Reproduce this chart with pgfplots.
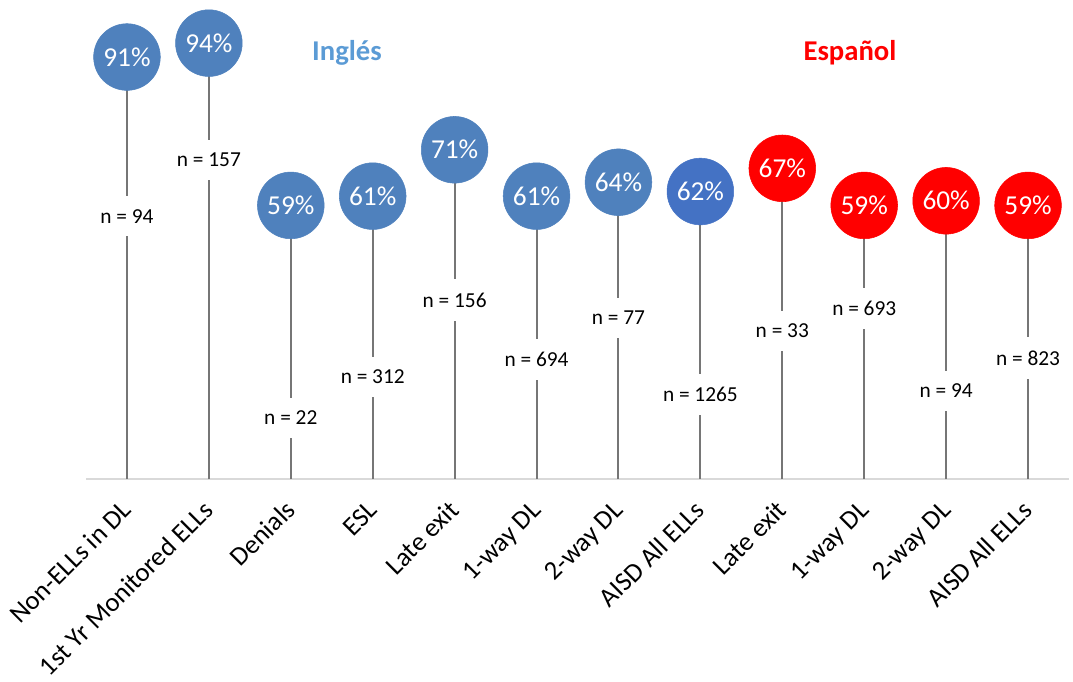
\documentclass[border=0pt]{standalone}
\usepackage{pgfplots}
\pgfplotsset{compat=1.18}
\usepackage{pgfplotstable}
\usepackage{fontspec}
\setmainfont{Carlito}

\definecolor{ingblue}{RGB}{79,129,189}
\definecolor{aisdblue}{RGB}{68,114,196}
\definecolor{espred}{RGB}{255,0,0}
\definecolor{titleblue}{RGB}{91,155,213}
\definecolor{stemgray}{RGB}{118,118,118}
\definecolor{basegray}{RGB}{217,217,217}

% x = category, pct = circle value, npos = height of the n label, n = sample size
\pgfplotstableread{
x pct npos n
0 91 56.7 94
1 94 68.8 157
2 59 13.2 22
3 61 22.0 312
4 71 38.6 156
5 61 25.7 694
6 64 34.7 77
7 62 18.3 1265
8 67 31.9 33
9 59 36.7 693
10 60 19.0 94
11 59 26.1 823
}\datos

\pgfplotsset{
	circlelabels/.style={point meta=explicit symbolic,
		nodes near coords={\pgfplotspointmeta\%},
		nodes near coords align=center,
		every node near coord/.append style={anchor=center, text=white,
			font=\fontsize{20.5}{22}\selectfont}},
}

\begin{document}
\begin{tikzpicture}
\begin{axis}[
	scale only axis,
	width=737.25pt,
	height=347.8pt,
	xmin=-0.5, xmax=11.5,
	ymin=0, ymax=100,
	clip=false,
	axis y line=none,
	axis x line*=bottom,
	x axis line style={basegray, line width=1.5pt, -},
	ytick=\empty,
	xtick={0,...,11},
	major tick length=0pt,
	xticklabels={Non-ELLs in DL, 1st Yr Monitored ELLs, Denials, ESL, Late exit,
		1-way DL, 2-way DL, AISD All ELLs, Late exit, 1-way DL, 2-way DL, AISD All ELLs},
	xticklabel style={yshift=-20pt, rotate=45, anchor=east, inner sep=0pt,
		text height=13pt, text depth=0pt,
		font=\fontsize{20}{22}\selectfont},
]
	% invisible frame: the picture's full extent
	\path (axis cs:-1.55,-43.56) rectangle (axis cs:11.549,103.3);

	% stems
	\addplot[ycomb, stemgray, line width=1.5pt, mark=none] table[x=x, y=pct] {\datos};

	% n labels
	\addplot[only marks, mark=none, point meta=explicit symbolic,
		nodes near coords={n = \pgfplotspointmeta},
		nodes near coords align=center,
		every node near coord/.append style={anchor=center, fill=white, inner xsep=3pt,
			inner ysep=10pt, font=\fontsize{16}{18}\selectfont}]
		table[x=x, y=npos, meta=n] {\datos};

	% circles, Inglés
	\addplot[only marks, color=ingblue, mark=*, mark size=25pt,
		restrict x to domain=0:6, circlelabels]
		table[x=x, y=pct, meta=pct] {\datos};

	% circle, AISD All ELLs (Inglés)
	\addplot[only marks, color=aisdblue, mark=*, mark size=25pt,
		restrict x to domain=7:7, circlelabels]
		table[x=x, y=pct, meta=pct] {\datos};

	% circles, Español
	\addplot[only marks, color=espred, mark=*, mark size=25pt,
		restrict x to domain=8:11, circlelabels]
		table[x=x, y=pct, meta=pct] {\datos};

	% group titles
	\node[titleblue, font=\bfseries\fontsize{21.5}{24}\selectfont] at (axis cs:2.686,91.9) {Inglés};
	\node[espred, font=\bfseries\fontsize{21.5}{24}\selectfont] at (axis cs:8.826,91.9) {Español};
\end{axis}
\end{tikzpicture}
\end{document}
